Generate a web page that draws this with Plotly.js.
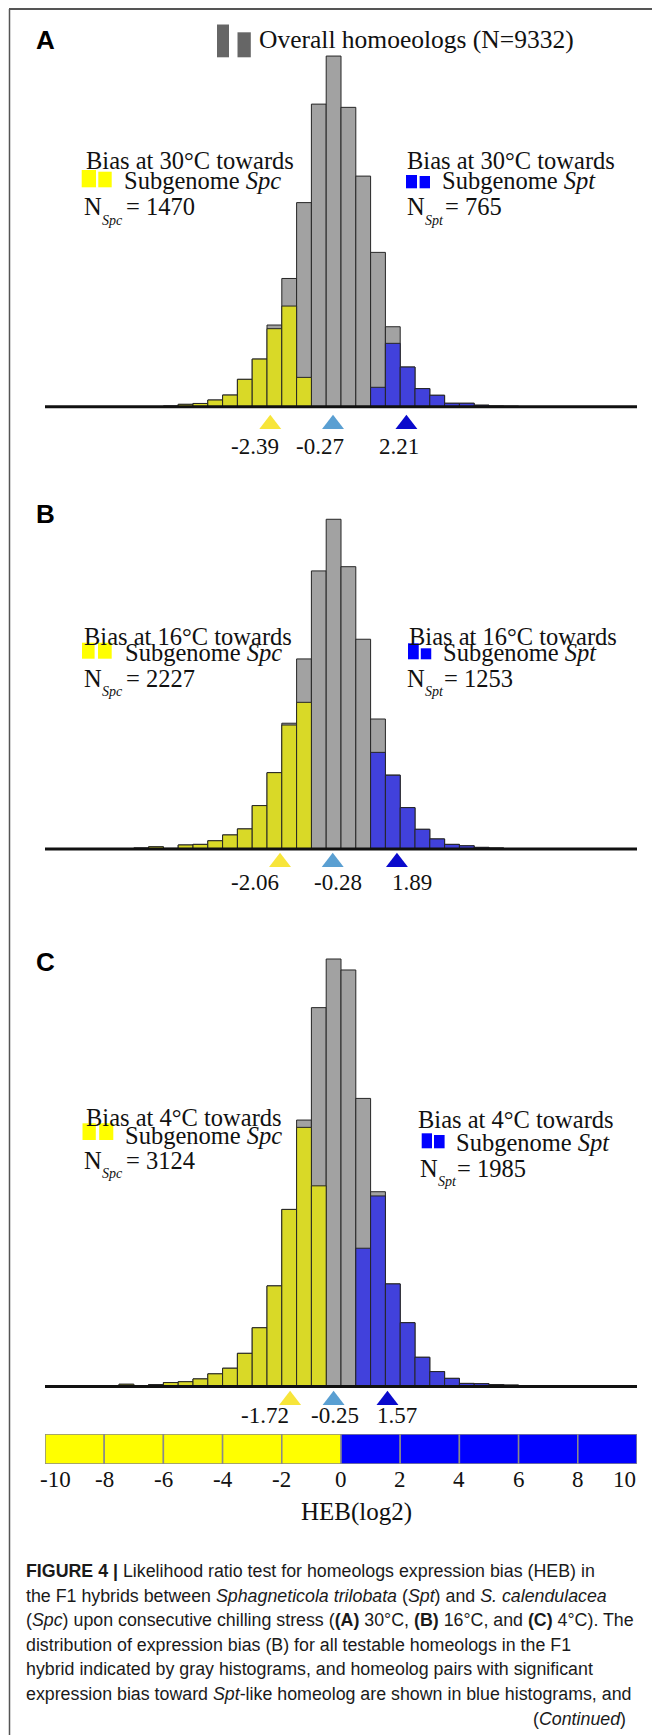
<!DOCTYPE html>
<html><head><meta charset="utf-8">
<script src="https://cdn.plot.ly/plotly-3.0.1.min.js"></script>
<style>html,body{margin:0;padding:0;background:#fff;}#chart{width:652px;height:1735px;}</style>
</head><body><div id="chart"></div>
<script>
// ---------------- DATA ----------------
const binCenters = [-7.25,-6.75,-6.25,-5.75,-5.25,-4.75,-4.25,-3.75,-3.25,-2.75,-2.25,-1.75,-1.25,-0.75,-0.25,0.25,0.75,1.25,1.75,2.25,2.75,3.25,3.75,4.25,4.75,5.25,5.75,6.25];
// Panel A (30°C)
const totalA = [0,0,0,3,11,15,31,54,127,221,379,595,947,1404,1627,1389,1070,716,371,184,84,53,16,16,7,3,2,0];
const spcA   = [0,0,0,3,11,15,31,54,127,221,362,467,136,0,0,0,0,0,0,0,0,0,0,0,0,0,0,0];
const sptA   = [0,0,0,0,0,0,0,0,0,0,0,0,0,0,0,0,0,90,294,184,84,53,16,16,7,3,2,0];
// Panel B (16°C)
const totalB = [0,5,11,3,20,23,41,70,100,216,380,626,946,1384,1641,1405,1044,647,368,206,98,50,23,16,8,5,0,0];
const spcB   = [0,5,11,3,20,23,41,70,100,216,380,617,730,0,0,0,0,0,0,0,0,0,0,0,0,0,0,0];
const sptB   = [0,0,0,0,0,0,0,0,0,0,0,0,0,0,0,0,0,481,367,206,98,50,23,16,8,5,0,0];
// Panel C (4°C)
const totalC = [8,2,7,14,17,27,45,65,118,209,358,630,948,1348,1521,1482,1025,693,365,227,104,53,29,11,10,7,5,2];
const spcC   = [8,2,7,14,17,27,45,65,118,209,358,630,922,714,0,0,0,0,0,0,0,0,0,0,0,0,0,0];
const sptC   = [0,0,0,0,0,0,0,0,0,0,0,0,0,0,0,0,492,678,365,227,104,53,29,11,10,7,5,2];
// Mean markers (Spc, overall, Spt)
const meansA = [-2.39,-0.27,2.21];
const meansB = [-2.06,-0.28,1.89];
const meansC = [-1.72,-0.25,1.57];
// Counts
const nOverall = 9332;
const temps = ['30','16','4'];
const nSpc = [1470,2227,3124];
const nSpt = [765,1253,1985];
// Scale bar
const scaleCells = [-9,-7,-5,-3,-1,1,3,5,7,9];
const scaleTicks = [-10,-8,-6,-4,-2,0,2,4,6,8,10];
const panelLetters = ['A','B','C'];

// ---------------- LAYOUT HELPERS ----------------
const W = 652, H = 1735, ML = 45, MR = 15, PW = W - ML - MR;
const px = v => (v - ML) / PW;
const py = v => 1 - v / H;
const SERIF = 'Liberation Serif, Times New Roman, serif';
const SANS = 'Liberation Sans, Arial, sans-serif';
const GRAY = '#a2a2a2', YEL = '#d9d927', BLU = '#4141dc', EDGE = '#262626';
const triColors = ['#f7e53a', '#5a9fd2', '#0a0acc'];

const panels = [
  {ax:'y', base:406.7, top:40, bottom:432, cpp:4.64, total:totalA, spc:spcA, spt:sptA, means:meansA,
   triOff:17.5, labY:446.6, labShift:[-15,-13,-7], letterY:40,
   L:{bias:[85,161], sub:[123.3,180], n:[82.7,207], s:[100.7,220], eq:[125,207], sq:[[81.7,96,170,187.3],[98.3,111.7,171.7,187.3]]},
   R:{bias:[406,161], sub:[440.8,180], n:[406,207], s:[423.5,220], eq:[443.5,207], sq:[[406,417,175,188.3],[419.6,430,176,188.3]]}},
  {ax:'y2', base:849, top:500, bottom:870, cpp:4.977, total:totalB, spc:spcB, spt:sptB, means:meansB,
   triOff:13.2, labY:882.5, labShift:[-25,5,15], letterY:514,
   L:{bias:[83.3,636], sub:[123.75,653], n:[82.5,678], s:[100.5,691], eq:[125,678], sq:[[82,94.6,642.7,658.7],[98,111.7,642.7,658.7]]},
   R:{bias:[408.3,636], sub:[441.7,653], n:[406.25,678], s:[424,691], eq:[443,678], sq:[[408,418.75,643.3,659.3],[420.8,431.25,648.3,659.3]]}},
  {ax:'y3', base:1386.5, top:940, bottom:1409, cpp:3.558, total:totalC, spc:spcC, spt:sptC, means:meansC,
   triOff:13.7, labY:1415, labShift:[-25,1,10], letterY:961.6,
   L:{bias:[84.6,1117], sub:[123.75,1135], n:[83.3,1160], s:[100.5,1173], eq:[125,1160], sq:[[82.5,95.8,1123.3,1140],[99.2,113.3,1123.3,1140]]},
   R:{bias:[416.7,1119], sub:[455,1142.5], n:[418.75,1168], s:[437,1181], eq:[456,1168], sq:[[421.7,432,1133.3,1148.3],[434,444.6,1135,1148.3]]}}
];

const traces = [], annotations = [], shapes = [];
const layout = {
  width: W, height: H, margin: {l: ML, r: MR, t: 0, b: 0, pad: 0},
  paper_bgcolor: '#ffffff', plot_bgcolor: 'rgba(0,0,0,0)',
  showlegend: false, barmode: 'overlay', bargap: 0,
  xaxis: {range: [-10, 10], visible: false, fixedrange: true},
  font: {family: SERIF, color: '#111'}
};

function txt(x, y, text, size, opts) {
  annotations.push(Object.assign({xref:'paper', yref:'paper', x: px(x), y: py(y), text: text,
    showarrow: false, xanchor: 'left', yanchor: 'middle', borderpad: 0,
    font: {family: SERIF, size: size, color: '#111'}}, opts || {}));
}
function rect(r, color) {
  shapes.push({type:'rect', xref:'paper', yref:'paper', x0: px(r[0]), x1: px(r[1]), y0: py(r[3]), y1: py(r[2]),
    fillcolor: color, line: {width: 0}, layer: 'above'});
}

panels.forEach((p, i) => {
  const axName = p.ax === 'y' ? 'yaxis' : 'yaxis' + p.ax.slice(1);
  // axis spans from below the mean markers (bottom) up to top; 0 sits on the baseline
  layout[axName] = {domain: [py(p.bottom), py(p.top)],
    range: [-(p.bottom - p.base) * p.cpp, (p.base - p.top) * p.cpp],
    visible: false, anchor: 'x', fixedrange: true};
  const common = {type:'bar', x: binCenters, width: 0.5, xaxis:'x', yaxis: p.ax, hoverinfo:'skip'};
  traces.push(Object.assign({}, common, {y: p.total, marker: {color: GRAY, line: {color: EDGE, width: 1}}}));
  traces.push(Object.assign({}, common, {y: p.spc, marker: {color: YEL, line: {color: EDGE, width: 1}}}));
  traces.push(Object.assign({}, common, {y: p.spt, marker: {color: BLU, line: {color: EDGE, width: 1}}}));
  // mean triangles
  traces.push({type:'scatter', mode:'markers', x: p.means, y: p.means.map(() => -p.triOff * p.cpp),
    xaxis:'x', yaxis: p.ax, cliponaxis: false, hoverinfo:'skip',
    marker: {symbol:'triangle-up', size: 19, color: triColors, line: {width: 0}}});
  p.means.forEach((m, k) => {
    annotations.push({xref:'x', yref:'paper', x: m, y: py(p.labY), text: m.toFixed(2),
      showarrow:false, xanchor:'center', yanchor:'middle', xshift: p.labShift[k], borderpad:0,
      font:{family: SERIF, size: 23, color:'#111'}});
  });
  // baseline
  shapes.push({type:'line', xref:'x', yref: p.ax, x0:-10, x1:10, y0:0, y1:0, line:{color:'#111', width:3}, layer:'above'});
  // panel letter
  txt(35, p.letterY, '<b>' + panelLetters[i] + '</b>', 26, {font:{family: SANS, size: 26, color:'#000'}});
  // side texts
  const sideL = p.L, sideR = p.R;
  txt(sideL.bias[0], sideL.bias[1], 'Bias at ' + temps[i] + '°C towards', 24.5);
  txt(sideL.sub[0], sideL.sub[1], 'Subgenome <i>Spc</i>', 24.5);
  txt(sideL.n[0], sideL.n[1], 'N', 24.5);
  txt(sideL.s[0], sideL.s[1], '<i>Spc</i>', 14);
  txt(sideL.eq[0], sideL.eq[1], '= ' + nSpc[i], 24.5);
  sideL.sq.forEach(r => rect(r, '#ffff00'));
  txt(sideR.bias[0], sideR.bias[1], 'Bias at ' + temps[i] + '°C towards', 24.5);
  txt(sideR.sub[0], sideR.sub[1], 'Subgenome <i>Spt</i>', 24.5);
  txt(sideR.n[0], sideR.n[1], 'N', 24.5);
  txt(sideR.s[0], sideR.s[1], '<i>Spt</i>', 14);
  txt(sideR.eq[0], sideR.eq[1], '= ' + nSpt[i], 24.5);
  sideR.sq.forEach(r => rect(r, '#0000ff'));
});

// overall legend (panel A)
rect([217, 229, 24.5, 57.3], '#666666');
rect([237.5, 250.8, 32.3, 57.3], '#666666');
txt(258, 39.5, 'Overall homoeologs (N=' + nOverall + ')', 25.5);

// HEB scale bar
layout.yaxis4 = {domain: [py(1464), py(1434)], range: [0, 1], visible: false, anchor: 'x', fixedrange: true};
traces.push({type:'bar', x: scaleCells, y: scaleCells.map(() => 1), width: 2, xaxis:'x', yaxis:'y4', hoverinfo:'skip',
  marker: {color: scaleCells.map(c => c < 0 ? '#ffff00' : '#0000ff'), line: {color: '#8a8a8a', width: 1.5}}});
scaleTicks.forEach((t, k) => {
  const shift = k === 0 ? 10 : (k === scaleTicks.length - 1 ? -13 : 0);
  annotations.push({xref:'x', yref:'paper', x: t, y: py(1479.5), text: String(t), showarrow:false,
    xanchor:'center', yanchor:'middle', xshift: shift, borderpad:0, font:{family: SERIF, size: 23, color:'#111'}});
});
txt(357, 1512, 'HEB(log2)', 25, {xanchor:'center'});

// frame
shapes.push({type:'line', xref:'paper', yref:'paper', x0: px(9), x1: px(652), y0: py(9), y1: py(9), line:{color:'#555', width:2}});
shapes.push({type:'line', xref:'paper', yref:'paper', x0: px(9.5), x1: px(9.5), y0: py(9), y1: py(1735), line:{color:'#555', width:1.5}});

// caption
const captionLines = [
  '<b>FIGURE 4 |</b> Likelihood ratio test for homeologs expression bias (HEB) in',
  'the F1 hybrids between <i>Sphagneticola trilobata</i> (<i>Spt</i>) and <i>S. calendulacea</i>',
  '(<i>Spc</i>) upon consecutive chilling stress (<b>(A)</b> 30°C, <b>(B)</b> 16°C, and <b>(C)</b> 4°C). The',
  'distribution of expression bias (B) for all testable homeologs in the F1',
  'hybrid indicated by gray histograms, and homeolog pairs with significant',
  'expression bias toward <i>Spt</i>-like homeolog are shown in blue histograms, and'
];
const captionCont = '(<i>Continued</i>)';
const cv = document.createElement('canvas').getContext('2d');
cv.font = '100px "Liberation Sans", Arial, sans-serif';
const wRef = cv.measureText('expression bias toward Spt-like homeolog are shown in blue histograms, and').width;
const capSize = Math.max(12, Math.min(18, 100 * 606 / wRef));
const capY = [1571, 1595.5, 1620, 1644.5, 1669, 1694];
captionLines.forEach((l, k) => txt(25, capY[k], l, capSize, {font:{family: SANS, size: capSize, color:'#1a1a1a'}}));
txt(627, 1719, captionCont, capSize, {xanchor:'right', font:{family: SANS, size: capSize, color:'#1a1a1a'}});

layout.annotations = annotations;
layout.shapes = shapes;
Plotly.newPlot('chart', traces, layout, {displayModeBar: false, staticPlot: true});
</script></body></html>
